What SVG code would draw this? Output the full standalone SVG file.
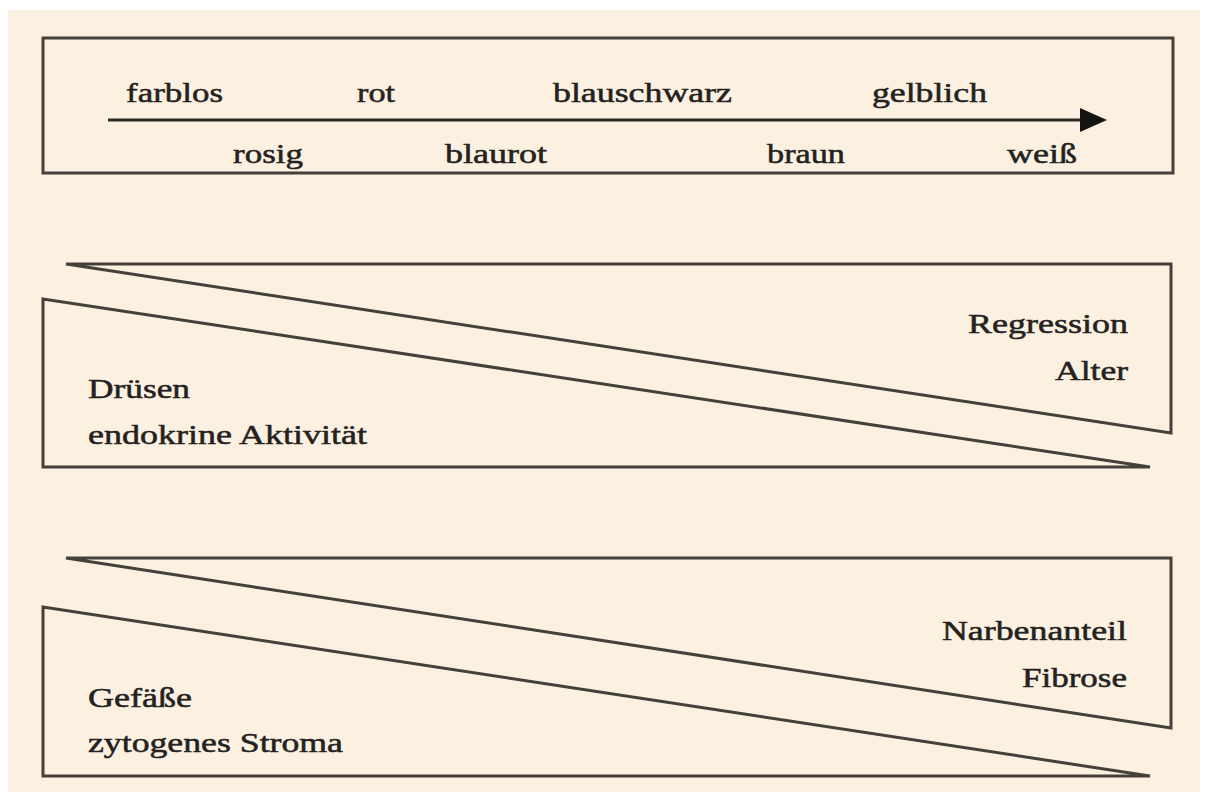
<svg xmlns="http://www.w3.org/2000/svg" width="1206" height="796" viewBox="0 0 1206 796">
  <defs>
    <style>
      .bg { fill: #fcf1e1; }
      .frame { fill: none; stroke: #45413a; stroke-width: 3; stroke-linejoin: miter; }
      .lbl { font-family: "Liberation Serif", "Times New Roman", serif; font-size: 27px; fill: #24221f; stroke: #24221f; stroke-width: 0.5; }
      .conn { stroke: #2a2825; stroke-width: 3; fill: none; }
    </style>
    <marker id="arrowhead" markerUnits="userSpaceOnUse" markerWidth="28" markerHeight="26" refX="1" refY="12" orient="auto">
      <polygon points="0,0 27,12 0,24" fill="#141312"/>
    </marker>
  </defs>
  <rect width="1206" height="796" fill="#ffffff"/>
  <rect class="bg" x="8" y="10" width="1192" height="782"/>

  <g id="farbskala">
    <rect class="frame" x="43" y="38" width="1130" height="135"/>
    <text class="lbl" x="126" y="102" textLength="97" lengthAdjust="spacingAndGlyphs">farblos</text>
    <text class="lbl" x="357" y="102" textLength="38" lengthAdjust="spacingAndGlyphs">rot</text>
    <text class="lbl" x="553" y="102" textLength="179" lengthAdjust="spacingAndGlyphs">blauschwarz</text>
    <text class="lbl" x="872" y="102" textLength="115" lengthAdjust="spacingAndGlyphs">gelblich</text>
    <text class="lbl" x="233" y="163" textLength="70" lengthAdjust="spacingAndGlyphs">rosig</text>
    <text class="lbl" x="445" y="163" textLength="102" lengthAdjust="spacingAndGlyphs">blaurot</text>
    <text class="lbl" x="767" y="163" textLength="78" lengthAdjust="spacingAndGlyphs">braun</text>
    <text class="lbl" x="1007" y="163" textLength="70" lengthAdjust="spacingAndGlyphs">weiß</text>
  </g>

  <g id="connectors">
    <line class="conn" x1="108" y1="120" x2="1081" y2="120" marker-end="url(#arrowhead)"/>
  </g>

  <g id="regression-alter">
    <polygon class="frame" points="66,264 1171,264 1171,433"/>
    <text class="lbl" x="968" y="333" textLength="160" lengthAdjust="spacingAndGlyphs">Regression</text>
    <text class="lbl" x="1055" y="380" textLength="73" lengthAdjust="spacingAndGlyphs">Alter</text>
  </g>

  <g id="druesen-aktivitaet">
    <polygon class="frame" points="43,299 43,467 1150,467"/>
    <text class="lbl" x="88" y="398" textLength="102" lengthAdjust="spacingAndGlyphs">Drüsen</text>
    <text class="lbl" x="88" y="444" textLength="279" lengthAdjust="spacingAndGlyphs">endokrine Aktivität</text>
  </g>

  <g id="narben-fibrose">
    <polygon class="frame" points="66,558 1171,558 1171,728"/>
    <text class="lbl" x="942" y="640" textLength="185" lengthAdjust="spacingAndGlyphs">Narbenanteil</text>
    <text class="lbl" x="1022" y="687" textLength="105" lengthAdjust="spacingAndGlyphs">Fibrose</text>
  </g>

  <g id="gefaesse-stroma">
    <polygon class="frame" points="43,607 43,776 1150,776"/>
    <text class="lbl" x="88" y="707" textLength="104" lengthAdjust="spacingAndGlyphs">Gefäße</text>
    <text class="lbl" x="88" y="752" textLength="255" lengthAdjust="spacingAndGlyphs">zytogenes Stroma</text>
  </g>
</svg>
